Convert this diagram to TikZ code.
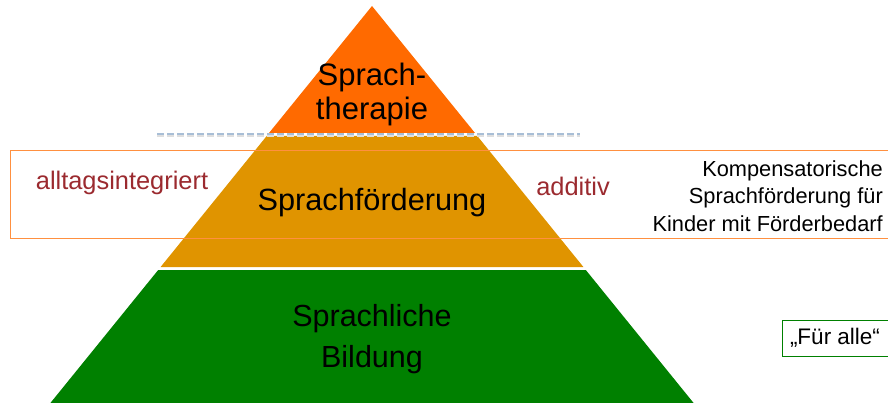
\documentclass[tikz,border=0pt]{standalone}
\usepackage{fontspec}
\setmainfont{Liberation Sans}
\usepackage{tikz}
\usetikzlibrary{positioning}

\definecolor{topcol}{HTML}{FF6A00}
\definecolor{midcol}{HTML}{E09400}
\definecolor{basecol}{HTML}{008000}
\definecolor{labelred}{HTML}{9B2A2F}
\definecolor{boxorange}{HTML}{FF9040}
\definecolor{dashblue}{HTML}{A8BED6}

\begin{document}
\begin{tikzpicture}[
            x=1pt, y=-1pt,
            tier/.style={draw=none},
            tiertext/.style={inner sep=0pt, align=center, font=\fontsize{31}{34}\selectfont},
            sidetext/.style={inner sep=0pt, text=labelred, font=\fontsize{25.4}{28}\selectfont},
            notetext/.style={inner sep=0pt, align=right, font=\fontsize{21.8}{27.5}\selectfont}
        ]
        \useasboundingbox (0,0) rectangle (888,403);
        % pyramid tiers
        \fill[tier, topcol] (372,6) -- (475,133) -- (269,133) -- cycle;
        \fill[tier, midcol] (266.7,136) -- (477.3,136) -- (583.4,267) -- (160.6,267) -- cycle;
        \fill[tier, basecol] (158.2,270) -- (585.8,270) -- (693.6,403) -- (50.4,403) -- cycle;
        % dashed separator
        \coordinate (dl) at (157,134);
        \coordinate (dr) at (580,134);
        \draw[gray!25, line width=2pt, dash pattern=on 7pt off 3pt, transform canvas={yshift=-2pt}] (dl) -- (dr);
        \draw[dashblue, line width=2pt, dash pattern=on 7pt off 3pt] (dl) -- (dr);
        % frame of the middle tier
        \draw[boxorange, line width=0.9pt] (10,150) rectangle (888,238.5);
        % labels
        \node[tiertext] (therapy) at (372,94) {Sprach-\\therapie};
        \node[tiertext, font=\fontsize{30.7}{34}\selectfont] (support) at (372,203) {Sprachförderung};
        \node[tiertext, font=\fontsize{30.5}{41}\selectfont] (education) at (372,339) {Sprachliche\\Bildung};
        \node[sidetext] (everyday) at (122,183) {alltagsintegriert};
        \node[sidetext] (additive) at (573,186) {additiv};
        \node[notetext, anchor=east] (compensatory) at (883,196) {Kompensatorische\\Sprachförderung für\\Kinder mit Förderbedarf};
        \node[draw=basecol, line width=1pt, inner sep=0pt, minimum height=36pt, minimum width=106pt,
              font=\fontsize{22.5}{26}\selectfont] (forall) at (835,338) {„Für alle“};
    \end{tikzpicture}
\end{document}
